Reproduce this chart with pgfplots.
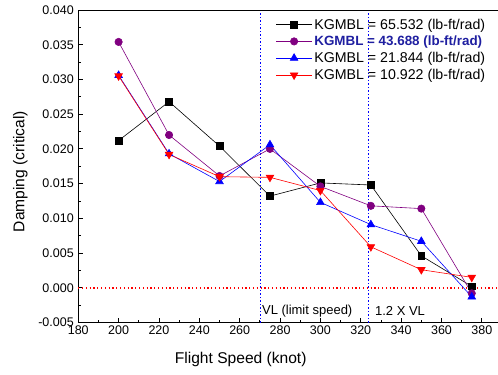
\documentclass[border=0pt]{standalone}
\usepackage{fontspec}
\setmainfont{Liberation Sans}
\usepackage{pgfplots}
\pgfplotsset{compat=1.18}
\definecolor{legblue}{RGB}{30,30,160}
\definecolor{mypurple}{RGB}{128,0,128}
\begin{document}
\begin{tikzpicture}[font=\fontsize{12.5}{14}\selectfont]
\begin{axis}[
  scale only axis, width=420pt, height=312.7pt,
  xmin=180, xmax=388, ymin=-0.005, ymax=0.040,
  axis x line*=bottom, axis y line*=left,
  axis line style={-, line width=0.8pt},
  xtick={180,200,220,240,260,280,300,320,340,360,380},
  ytick={-0.005,0,0.005,0.010,0.015,0.020,0.025,0.030,0.035,0.040},
  minor x tick num=1, minor y tick num=1,
  tick align=inside, major tick length=5pt, minor tick length=3pt,
  tick style={line width=0.8pt, black},
  scaled y ticks=false,
  /pgf/number format/assume math mode=true,
  yticklabel style={/pgf/number format/fixed, /pgf/number format/fixed zerofill, /pgf/number format/precision=3, xshift=-1pt},
  xticklabel style={/pgf/number format/1000 sep={}},
  xlabel={Flight Speed (knot)}, ylabel={Damping (critical)},
  xlabel style={at={(axis description cs:0.387,-0.118)}, anchor=center, font=\fontsize{15.6}{17}\selectfont},
  ylabel style={at={(axis description cs:-0.138,0.483)}, anchor=center, font=\fontsize{15.6}{17}\selectfont},
  legend style={draw=none, fill=none, at={(axis description cs:0.977,0.982)}, anchor=north east, cells={anchor=west}, row sep=1.2pt, inner sep=1pt, font=\fontsize{14.2}{15}\selectfont},
  legend image code/.code={\draw[mark repeat=2,mark phase=2,#1] plot coordinates {(0pt,0pt) (18pt,0pt) (36pt,0pt)};},
  clip=false,
]
\draw[color=blue, line width=1.3pt, dash pattern=on 1.3pt off 2.2pt] (axis cs:270.25,-0.005) -- (axis cs:270.25,0.040);
\draw[color=blue, line width=1.3pt, dash pattern=on 1.3pt off 2.2pt] (axis cs:324,-0.005) -- (axis cs:324,0.040);
\draw[color=red, line width=1.2pt, dash pattern=on 1.2pt off 2.6pt] (axis cs:180,-0.00003) -- (axis cs:388,-0.00003);
\addplot[black, line width=0.6pt, mark=square*, mark size=3.4pt] coordinates {
(200,0.0212) (225,0.0268) (250,0.0204) (275,0.0132) (300,0.0151) (325,0.0148) (350,0.0046) (375,0.0002)};
\addlegendentry{KGMBL = 65.532 (lb-ft/rad)}
\addplot[mypurple, line width=0.6pt, mark=*, mark size=3.7pt] coordinates {
(200,0.0354) (225,0.0220) (250,0.0161) (275,0.0200) (300,0.0146) (325,0.0118) (350,0.0114) (375,-0.0008)};
\addlegendentry{\fontsize{13.4}{15}\selectfont\textbf{\textcolor{legblue}{KGMBL = 43.688 (lb-ft/rad)}}}
\addplot[blue, line width=0.6pt, mark=triangle*, mark size=4.4pt] coordinates {
(200,0.0306) (225,0.0193) (250,0.0153) (275,0.0206) (300,0.0123) (325,0.0091) (350,0.0067) (375,-0.0013)};
\addlegendentry{KGMBL = 21.844 (lb-ft/rad)}
\addplot[red, line width=0.6pt, mark=triangle*, mark options={rotate=180}, mark size=4.4pt] coordinates {
(200,0.0305) (225,0.0192) (250,0.0160) (275,0.0159) (300,0.0140) (325,0.0059) (350,0.0026) (375,0.0015)};
\addlegendentry{KGMBL = 10.922 (lb-ft/rad)}
\draw[line width=0.8pt] (rel axis cs:0,1) -- (rel axis cs:1,1);
\node[anchor=west, inner sep=0pt, font=\fontsize{13}{14}\selectfont] at (axis cs:271,-0.0033) {VL (limit speed)};
\node[anchor=west, inner sep=0pt, font=\fontsize{13}{14}\selectfont] at (axis cs:327,-0.0033) {1.2 X VL};
\coordinate (SW) at (rel axis cs:0,0);
\coordinate (NE) at (rel axis cs:1,1);
\end{axis}
\pgfresetboundingbox
\path ([xshift=-78.3pt,yshift=-52.3pt]SW) rectangle ([yshift=10pt]NE);
\end{tikzpicture}
\end{document}
